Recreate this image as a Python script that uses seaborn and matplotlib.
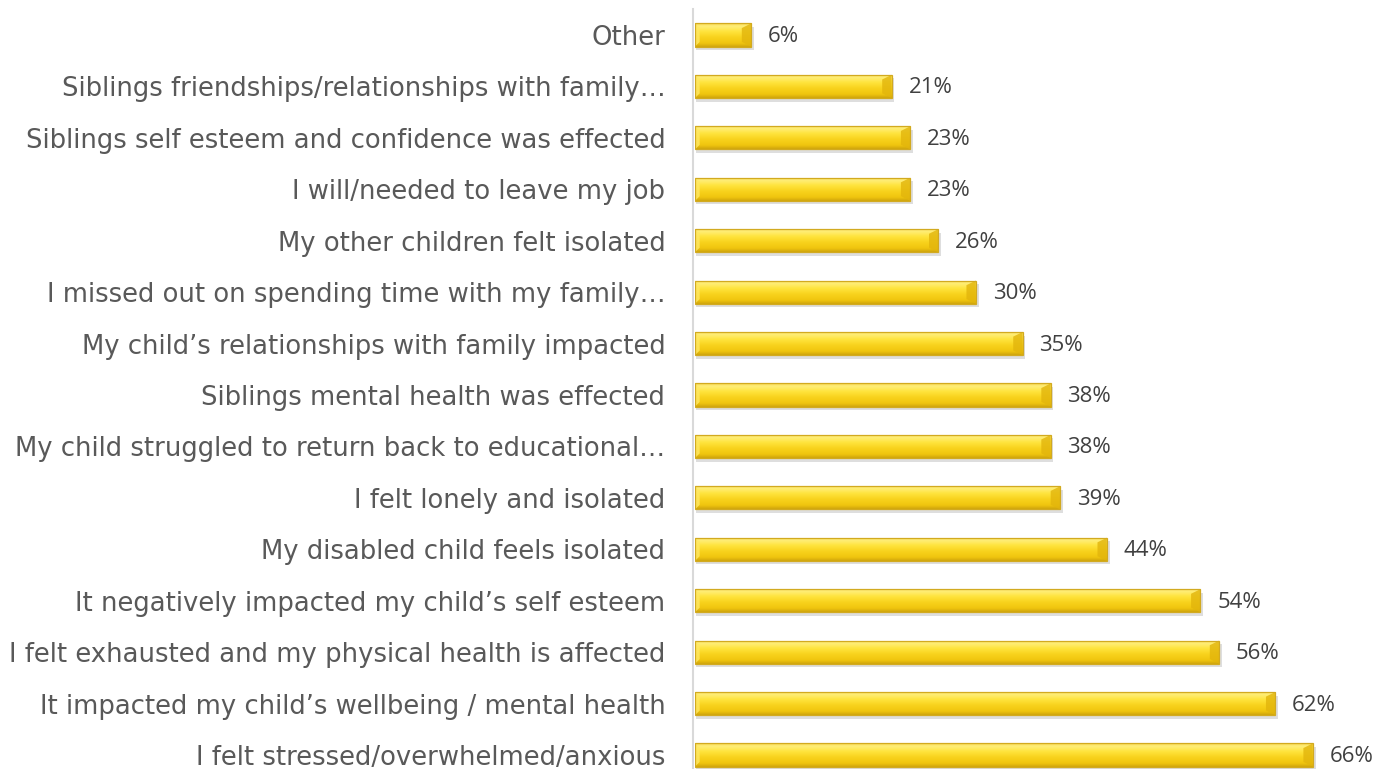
import numpy as np
import pandas as pd
import matplotlib
matplotlib.use("Agg")
import matplotlib.pyplot as plt
from matplotlib.colors import LinearSegmentedColormap
from matplotlib.patches import Polygon
import seaborn as sns

# Survey responses: impact on the family
categories = [
    "Other",
    "Siblings friendships/relationships with family…",
    "Siblings self esteem and confidence was effected",
    "I will/needed to leave my job",
    "My other children felt isolated",
    "I missed out on spending time with my family…",
    "My child’s relationships with family impacted",
    "Siblings mental health was effected",
    "My child struggled to return back to educational…",
    "I felt lonely and isolated",
    "My disabled child feels isolated",
    "It negatively impacted my child’s self esteem",
    "I felt exhausted and my physical health is affected",
    "It impacted my child’s wellbeing / mental health",
    "I felt stressed/overwhelmed/anxious",
]
percentages = [6, 21, 23, 23, 26, 30, 35, 38, 38, 39, 44, 54, 56, 62, 66]

df = pd.DataFrame({"category": categories, "pct": percentages})

sns.set_theme(style="white")
plt.rcParams["font.family"] = ["DejaVu Sans"]

fig = plt.figure(figsize=(13.76, 7.69), dpi=100)
W, H = 1376, 769
row = 51.43
top_px = 35 - row / 2
bottom_px = 755 + row / 2
left_px = 695
xmax = 72
right_px = left_px + xmax * 9.36
ax = fig.add_axes([left_px / W, 1 - bottom_px / H,
                   (right_px - left_px) / W, (bottom_px - top_px) / H])

sns.barplot(data=df, x="pct", y="category", orient="h", ax=ax,
            color="#F5CC16", width=0.45, saturation=1,
            edgecolor="none", linewidth=0)

ax.set_xlim(0, xmax)
ax.set_ylim(len(categories) - 0.5, -0.5)

# Bevelled gold look: vertical gradient, soft shadow, darker right end
grad = LinearSegmentedColormap.from_list(
    "gold", [(0.0, "#F7D34A"), (0.12, "#FFEE7A"), (0.35, "#FFE43C"),
             (0.6, "#F8D21C"), (0.85, "#F0C50E"), (1.0, "#CFA40C")])
gimg = np.linspace(0, 1, 64).reshape(-1, 1)
for p in list(ax.patches):
    x0, y0 = p.get_x(), p.get_y()
    w, h = p.get_width(), p.get_height()
    # shadow
    ax.barh(y0 + h / 2 + 0.07, w + 0.2, height=h, left=0.1,
            color="#8a8a8a", alpha=0.28, zorder=1, linewidth=0)
    im = ax.imshow(gimg, cmap=grad, aspect="auto",
                   extent=(x0, x0 + w, y0 + h, y0), zorder=2,
                   interpolation="bicubic")
    im.set_clip_path(p)
    p.set_zorder(2)
    p.set_facecolor("none")
    # end bevels
    bw = 1.0
    inset = h * 0.2
    ax.add_patch(Polygon([(x0 + w - bw, y0 + inset), (x0 + w, y0),
                          (x0 + w, y0 + h), (x0 + w - bw, y0 + h - inset)],
                         closed=True, facecolor="#E2B50C", edgecolor="none",
                         alpha=0.8, zorder=3))
    ax.add_patch(Polygon([(x0, y0), (x0 + bw * 0.5, y0 + inset),
                          (x0 + bw * 0.5, y0 + h - inset), (x0, y0 + h)],
                         closed=True, facecolor="#FFE866", edgecolor="none",
                         alpha=0.8, zorder=3))
    ax.add_patch(plt.Rectangle((x0, y0), w, h, fill=False,
                               edgecolor="#D2AA20", linewidth=0.9, zorder=4))

for i, v in enumerate(percentages):
    ax.text(v + 1.8, i + 0.03, f"{v}%", va="center", ha="left",
            fontsize=16, color="#404040", family=["Open Sans", "DejaVu Sans"])

ax.set_xlabel("")
ax.set_ylabel("")
ax.set_xticks([])
ax.tick_params(axis="y", length=0, pad=20, labelsize=18.6, labelcolor="#595959")
for s in ["top", "right", "bottom"]:
    ax.spines[s].set_visible(False)
ax.spines["left"].set_color("#D9D9D9")
ax.spines["left"].set_linewidth(1.5)
ax.spines["left"].set_position(("data", -0.2))
ax.spines["left"].set_bounds(-0.5, len(categories) - 0.5)

fig.savefig("out.png", dpi=100, facecolor="white")
